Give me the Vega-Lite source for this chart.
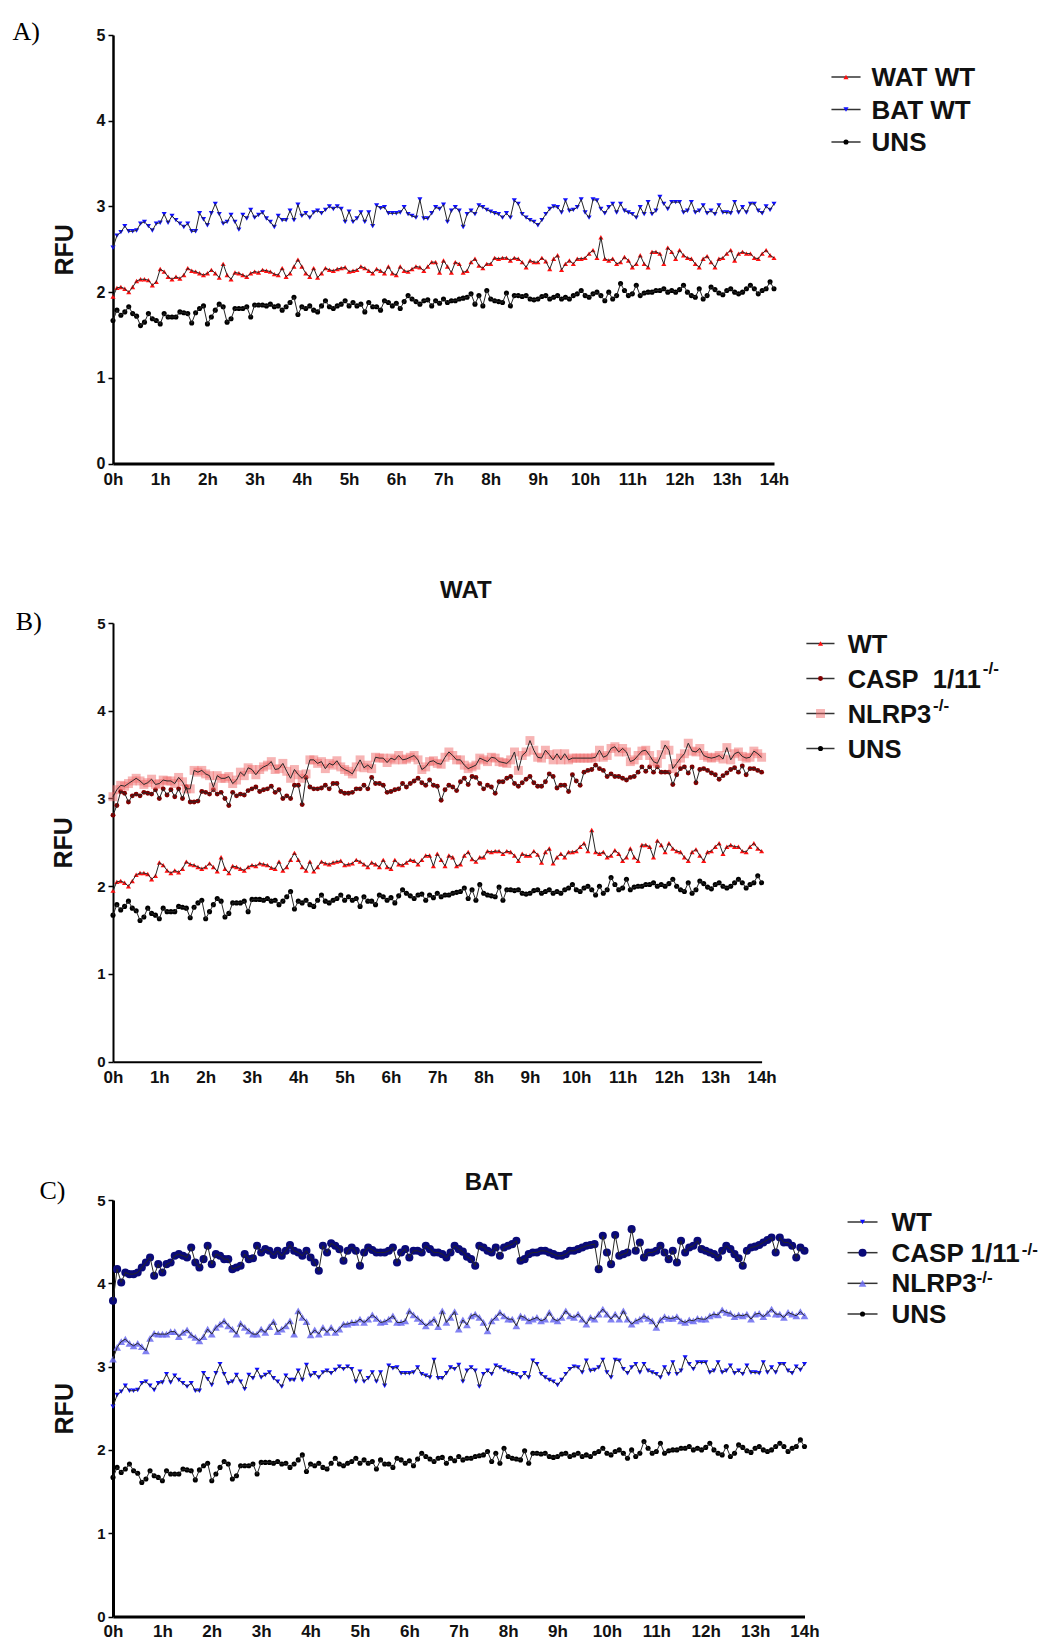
{
"$schema": "https://vega.github.io/schema/vega-lite/v6.json",
"background": "white",
"padding": {"left": 12, "top": 19, "right": 5, "bottom": 2},
"config": {"view": {"stroke": null}, "font": "Liberation Sans", "axis": {"grid": false}},
"datasets": {"d": [
{"m":0,"u":1.67,"w":1.95,"b":2.52,"wc":2.81,"wn":3.02,"bc":3.79,"bn":3.09},
{"m":5,"u":1.79,"w":2.05,"b":2.66,"wc":2.92,"wn":3.10,"bc":4.17,"bn":3.23},
{"m":10,"u":1.73,"w":2.06,"b":2.70,"wc":3.08,"wn":3.15,"bc":4.01,"bn":3.30},
{"m":15,"u":1.77,"w":2.04,"b":2.77,"wc":3.06,"wn":3.14,"bc":4.13,"bn":3.33},
{"m":20,"u":1.83,"w":2.00,"b":2.71,"wc":2.96,"wn":3.17,"bc":4.11,"bn":3.28},
{"m":25,"u":1.75,"w":2.06,"b":2.71,"wc":3.03,"wn":3.20,"bc":4.11,"bn":3.25},
{"m":30,"u":1.72,"w":2.13,"b":2.72,"wc":3.05,"wn":3.23,"bc":4.13,"bn":3.28},
{"m":35,"u":1.61,"w":2.15,"b":2.80,"wc":3.03,"wn":3.20,"bc":4.19,"bn":3.24},
{"m":40,"u":1.65,"w":2.15,"b":2.82,"wc":3.07,"wn":3.16,"bc":4.25,"bn":3.19},
{"m":45,"u":1.75,"w":2.14,"b":2.77,"wc":3.06,"wn":3.18,"bc":4.31,"bn":3.34},
{"m":50,"u":1.69,"w":2.08,"b":2.72,"wc":3.05,"wn":3.22,"bc":4.09,"bn":3.40},
{"m":55,"u":1.67,"w":2.12,"b":2.80,"wc":3.10,"wn":3.16,"bc":4.23,"bn":3.39},
{"m":60,"u":1.63,"w":2.27,"b":2.81,"wc":3.00,"wn":3.17,"bc":4.13,"bn":3.39},
{"m":65,"u":1.75,"w":2.24,"b":2.91,"wc":3.11,"wn":3.21,"bc":4.23,"bn":3.39},
{"m":70,"u":1.71,"w":2.18,"b":2.81,"wc":3.04,"wn":3.20,"bc":4.25,"bn":3.42},
{"m":75,"u":1.71,"w":2.15,"b":2.89,"wc":3.10,"wn":3.20,"bc":4.33,"bn":3.42},
{"m":80,"u":1.71,"w":2.18,"b":2.84,"wc":3.02,"wn":3.17,"bc":4.35,"bn":3.36},
{"m":85,"u":1.77,"w":2.16,"b":2.80,"wc":3.11,"wn":3.24,"bc":4.33,"bn":3.41},
{"m":90,"u":1.76,"w":2.20,"b":2.76,"wc":3.00,"wn":3.19,"bc":4.31,"bn":3.44},
{"m":95,"u":1.75,"w":2.28,"b":2.80,"wc":3.13,"wn":3.11,"bc":4.43,"bn":3.38},
{"m":100,"u":1.64,"w":2.25,"b":2.71,"wc":2.96,"wn":3.11,"bc":4.25,"bn":3.35},
{"m":105,"u":1.76,"w":2.24,"b":2.71,"wc":2.96,"wn":3.32,"bc":4.19,"bn":3.31},
{"m":110,"u":1.81,"w":2.22,"b":2.92,"wc":2.97,"wn":3.30,"bc":4.29,"bn":3.36},
{"m":115,"u":1.84,"w":2.20,"b":2.85,"wc":3.08,"wn":3.32,"bc":4.45,"bn":3.45},
{"m":120,"u":1.63,"w":2.22,"b":2.78,"wc":3.07,"wn":3.28,"bc":4.23,"bn":3.39},
{"m":125,"u":1.71,"w":2.26,"b":2.92,"wc":3.05,"wn":3.26,"bc":4.35,"bn":3.47},
{"m":130,"u":1.79,"w":2.22,"b":3.03,"wc":3.10,"wn":3.13,"bc":4.33,"bn":3.51},
{"m":135,"u":1.86,"w":2.17,"b":2.91,"wc":3.05,"wn":3.26,"bc":4.29,"bn":3.55},
{"m":140,"u":1.83,"w":2.33,"b":2.80,"wc":3.07,"wn":3.23,"bc":4.29,"bn":3.49},
{"m":145,"u":1.65,"w":2.20,"b":2.82,"wc":3.00,"wn":3.23,"bc":4.17,"bn":3.45},
{"m":150,"u":1.69,"w":2.15,"b":2.90,"wc":2.92,"wn":3.25,"bc":4.19,"bn":3.39},
{"m":155,"u":1.81,"w":2.23,"b":2.82,"wc":3.07,"wn":3.17,"bc":4.21,"bn":3.52},
{"m":160,"u":1.81,"w":2.22,"b":2.73,"wc":3.03,"wn":3.21,"bc":4.35,"bn":3.47},
{"m":165,"u":1.81,"w":2.20,"b":2.90,"wc":3.05,"wn":3.30,"bc":4.29,"bn":3.43},
{"m":170,"u":1.83,"w":2.18,"b":2.86,"wc":3.04,"wn":3.26,"bc":4.30,"bn":3.39},
{"m":175,"u":1.71,"w":2.22,"b":2.96,"wc":3.09,"wn":3.35,"bc":4.45,"bn":3.39},
{"m":180,"u":1.85,"w":2.24,"b":2.87,"wc":3.11,"wn":3.33,"bc":4.37,"bn":3.45},
{"m":185,"u":1.85,"w":2.23,"b":2.90,"wc":3.13,"wn":3.27,"bc":4.41,"bn":3.41},
{"m":190,"u":1.85,"w":2.26,"b":2.93,"wc":3.08,"wn":3.33,"bc":4.39,"bn":3.48},
{"m":195,"u":1.84,"w":2.25,"b":2.86,"wc":3.10,"wn":3.36,"bc":4.34,"bn":3.54},
{"m":200,"u":1.86,"w":2.24,"b":2.82,"wc":3.11,"wn":3.38,"bc":4.39,"bn":3.42},
{"m":205,"u":1.83,"w":2.21,"b":2.76,"wc":3.14,"wn":3.42,"bc":4.33,"bn":3.45},
{"m":210,"u":1.84,"w":2.20,"b":2.89,"wc":3.07,"wn":3.33,"bc":4.39,"bn":3.49},
{"m":215,"u":1.79,"w":2.28,"b":2.84,"wc":3.10,"wn":3.34,"bc":4.46,"bn":3.55},
{"m":220,"u":1.83,"w":2.18,"b":2.84,"wc":3.00,"wn":3.40,"bc":4.39,"bn":3.39},
{"m":225,"u":1.88,"w":2.22,"b":2.95,"wc":3.03,"wn":3.31,"bc":4.37,"bn":3.67},
{"m":230,"u":1.94,"w":2.30,"b":2.84,"wc":3.00,"wn":3.23,"bc":4.33,"bn":3.59},
{"m":235,"u":1.74,"w":2.38,"b":3.02,"wc":3.15,"wn":3.33,"bc":4.39,"bn":3.54},
{"m":240,"u":1.83,"w":2.30,"b":2.89,"wc":3.15,"wn":3.27,"bc":4.31,"bn":3.38},
{"m":245,"u":1.81,"w":2.22,"b":2.92,"wc":2.93,"wn":3.23,"bc":4.25,"bn":3.44},
{"m":250,"u":1.84,"w":2.18,"b":2.87,"wc":3.24,"wn":3.28,"bc":4.15,"bn":3.39},
{"m":255,"u":1.79,"w":2.28,"b":2.93,"wc":3.13,"wn":3.44,"bc":4.45,"bn":3.47},
{"m":260,"u":1.77,"w":2.17,"b":2.95,"wc":3.11,"wn":3.44,"bc":4.37,"bn":3.41},
{"m":265,"u":1.84,"w":2.22,"b":2.92,"wc":3.11,"wn":3.40,"bc":4.48,"bn":3.47},
{"m":270,"u":1.90,"w":2.28,"b":2.96,"wc":3.12,"wn":3.42,"bc":4.45,"bn":3.41},
{"m":275,"u":1.83,"w":2.26,"b":3.00,"wc":3.15,"wn":3.34,"bc":4.41,"bn":3.45},
{"m":280,"u":1.81,"w":2.25,"b":2.97,"wc":3.11,"wn":3.40,"bc":4.27,"bn":3.51},
{"m":285,"u":1.84,"w":2.27,"b":3.00,"wc":3.17,"wn":3.38,"bc":4.39,"bn":3.51},
{"m":290,"u":1.86,"w":2.28,"b":2.97,"wc":3.17,"wn":3.43,"bc":4.43,"bn":3.53},
{"m":295,"u":1.90,"w":2.29,"b":2.82,"wc":3.08,"wn":3.36,"bc":4.39,"bn":3.53},
{"m":300,"u":1.84,"w":2.24,"b":2.94,"wc":3.06,"wn":3.33,"bc":4.21,"bn":3.57},
{"m":305,"u":1.88,"w":2.25,"b":2.82,"wc":3.06,"wn":3.31,"bc":4.37,"bn":3.53},
{"m":310,"u":1.84,"w":2.26,"b":2.86,"wc":3.07,"wn":3.28,"bc":4.43,"bn":3.57},
{"m":315,"u":1.86,"w":2.30,"b":2.93,"wc":3.11,"wn":3.36,"bc":4.40,"bn":3.62},
{"m":320,"u":1.77,"w":2.28,"b":2.82,"wc":3.11,"wn":3.44,"bc":4.37,"bn":3.58},
{"m":325,"u":1.88,"w":2.25,"b":2.93,"wc":3.15,"wn":3.35,"bc":4.37,"bn":3.53},
{"m":330,"u":1.83,"w":2.22,"b":2.77,"wc":3.11,"wn":3.38,"bc":4.37,"bn":3.54},
{"m":335,"u":1.83,"w":2.27,"b":3.01,"wc":3.24,"wn":3.34,"bc":4.39,"bn":3.57},
{"m":340,"u":1.79,"w":2.25,"b":2.98,"wc":3.17,"wn":3.47,"bc":4.43,"bn":3.61},
{"m":345,"u":1.90,"w":2.22,"b":2.99,"wc":3.17,"wn":3.46,"bc":4.25,"bn":3.53},
{"m":350,"u":1.88,"w":2.30,"b":2.92,"wc":3.15,"wn":3.46,"bc":4.37,"bn":3.53},
{"m":355,"u":1.84,"w":2.22,"b":2.92,"wc":3.07,"wn":3.41,"bc":4.41,"bn":3.55},
{"m":360,"u":1.87,"w":2.20,"b":2.92,"wc":3.08,"wn":3.46,"bc":4.31,"bn":3.67},
{"m":365,"u":1.81,"w":2.30,"b":2.93,"wc":3.10,"wn":3.44,"bc":4.39,"bn":3.62},
{"m":370,"u":1.89,"w":2.25,"b":2.99,"wc":3.11,"wn":3.49,"bc":4.39,"bn":3.58},
{"m":375,"u":1.96,"w":2.24,"b":2.91,"wc":3.17,"wn":3.44,"bc":4.37,"bn":3.54},
{"m":380,"u":1.92,"w":2.27,"b":2.89,"wc":3.13,"wn":3.45,"bc":4.45,"bn":3.49},
{"m":385,"u":1.89,"w":2.30,"b":2.87,"wc":3.17,"wn":3.47,"bc":4.41,"bn":3.53},
{"m":390,"u":1.86,"w":2.29,"b":3.08,"wc":3.20,"wn":3.49,"bc":4.37,"bn":3.57},
{"m":395,"u":1.90,"w":2.25,"b":2.86,"wc":3.23,"wn":3.44,"bc":4.37,"bn":3.48},
{"m":400,"u":1.91,"w":2.30,"b":2.86,"wc":3.18,"wn":3.33,"bc":4.35,"bn":3.67},
{"m":405,"u":1.84,"w":2.35,"b":2.92,"wc":3.15,"wn":3.36,"bc":4.31,"bn":3.53},
{"m":410,"u":1.90,"w":2.35,"b":2.99,"wc":3.21,"wn":3.42,"bc":4.37,"bn":3.59},
{"m":415,"u":1.87,"w":2.23,"b":2.97,"wc":3.15,"wn":3.43,"bc":4.45,"bn":3.66},
{"m":420,"u":1.92,"w":2.37,"b":3.02,"wc":3.14,"wn":3.40,"bc":4.41,"bn":3.45},
{"m":425,"u":1.88,"w":2.30,"b":2.82,"wc":2.98,"wn":3.39,"bc":4.38,"bn":3.56},
{"m":430,"u":1.90,"w":2.23,"b":2.95,"wc":3.10,"wn":3.47,"bc":4.32,"bn":3.50},
{"m":435,"u":1.90,"w":2.35,"b":2.99,"wc":3.15,"wn":3.53,"bc":4.29,"bn":3.61},
{"m":440,"u":1.92,"w":2.33,"b":2.95,"wc":3.13,"wn":3.49,"bc":4.21,"bn":3.63},
{"m":445,"u":1.93,"w":2.23,"b":2.76,"wc":3.09,"wn":3.44,"bc":4.45,"bn":3.59},
{"m":450,"u":1.94,"w":2.25,"b":2.91,"wc":3.19,"wn":3.44,"bc":4.43,"bn":3.53},
{"m":455,"u":1.98,"w":2.35,"b":2.95,"wc":3.23,"wn":3.38,"bc":4.39,"bn":3.43},
{"m":460,"u":1.86,"w":2.39,"b":2.91,"wc":3.16,"wn":3.34,"bc":4.37,"bn":3.55},
{"m":465,"u":1.96,"w":2.31,"b":3.01,"wc":3.25,"wn":3.36,"bc":4.43,"bn":3.59},
{"m":470,"u":1.84,"w":2.28,"b":2.99,"wc":3.24,"wn":3.38,"bc":4.33,"bn":3.65},
{"m":475,"u":2.02,"w":2.33,"b":2.96,"wc":3.17,"wn":3.46,"bc":4.43,"bn":3.61},
{"m":480,"u":1.92,"w":2.33,"b":2.94,"wc":3.11,"wn":3.44,"bc":4.45,"bn":3.57},
{"m":485,"u":1.90,"w":2.40,"b":2.92,"wc":3.15,"wn":3.42,"bc":4.47,"bn":3.57},
{"m":490,"u":1.89,"w":2.39,"b":2.91,"wc":3.13,"wn":3.47,"bc":4.51,"bn":3.49},
{"m":495,"u":1.88,"w":2.40,"b":2.87,"wc":3.06,"wn":3.46,"bc":4.27,"bn":3.61},
{"m":500,"u":1.99,"w":2.40,"b":2.92,"wc":3.19,"wn":3.42,"bc":4.29,"bn":3.59},
{"m":505,"u":1.84,"w":2.37,"b":2.87,"wc":3.19,"wn":3.41,"bc":4.35,"bn":3.55},
{"m":510,"u":1.96,"w":2.40,"b":3.07,"wc":3.23,"wn":3.40,"bc":4.37,"bn":3.57},
{"m":515,"u":1.96,"w":2.39,"b":3.03,"wc":3.25,"wn":3.44,"bc":4.37,"bn":3.59},
{"m":520,"u":1.95,"w":2.35,"b":2.91,"wc":3.17,"wn":3.53,"bc":4.39,"bn":3.55},
{"m":525,"u":1.96,"w":2.29,"b":2.87,"wc":3.14,"wn":3.32,"bc":4.39,"bn":3.57},
{"m":530,"u":1.92,"w":2.37,"b":2.84,"wc":3.18,"wn":3.49,"bc":4.37,"bn":3.65},
{"m":535,"u":1.91,"w":2.35,"b":2.82,"wc":3.22,"wn":3.53,"bc":4.35,"bn":3.57},
{"m":540,"u":1.92,"w":2.35,"b":2.78,"wc":3.25,"wn":3.66,"bc":4.33,"bn":3.55},
{"m":545,"u":1.95,"w":2.40,"b":2.84,"wc":3.18,"wn":3.55,"bc":4.33,"bn":3.59},
{"m":550,"u":1.96,"w":2.36,"b":2.91,"wc":3.14,"wn":3.47,"bc":4.35,"bn":3.67},
{"m":555,"u":1.92,"w":2.27,"b":2.97,"wc":3.14,"wn":3.46,"bc":4.39,"bn":3.61},
{"m":560,"u":1.94,"w":2.39,"b":3.00,"wc":3.19,"wn":3.55,"bc":4.39,"bn":3.59},
{"m":565,"u":1.96,"w":2.43,"b":2.99,"wc":3.28,"wn":3.50,"bc":4.41,"bn":3.63},
{"m":570,"u":1.92,"w":2.26,"b":2.93,"wc":3.25,"wn":3.44,"bc":4.43,"bn":3.57},
{"m":575,"u":1.94,"w":2.33,"b":3.07,"wc":3.12,"wn":3.51,"bc":4.45,"bn":3.51},
{"m":580,"u":1.92,"w":2.37,"b":2.95,"wc":3.15,"wn":3.44,"bc":4.46,"bn":3.59},
{"m":585,"u":1.96,"w":2.33,"b":2.96,"wc":3.15,"wn":3.51,"bc":4.47,"bn":3.57},
{"m":590,"u":1.98,"w":2.39,"b":2.99,"wc":3.08,"wn":3.44,"bc":4.17,"bn":3.63},
{"m":595,"u":2.02,"w":2.39,"b":3.08,"wc":3.27,"wn":3.46,"bc":4.57,"bn":3.69},
{"m":600,"u":1.96,"w":2.40,"b":2.93,"wc":3.20,"wn":3.46,"bc":4.37,"bn":3.63},
{"m":605,"u":1.94,"w":2.45,"b":2.87,"wc":3.15,"wn":3.46,"bc":4.23,"bn":3.57},
{"m":610,"u":1.98,"w":2.49,"b":3.08,"wc":3.30,"wn":3.46,"bc":4.58,"bn":3.63},
{"m":615,"u":2.00,"w":2.40,"b":3.07,"wc":3.32,"wn":3.46,"bc":4.33,"bn":3.57},
{"m":620,"u":1.96,"w":2.64,"b":2.97,"wc":3.33,"wn":3.46,"bc":4.35,"bn":3.67},
{"m":625,"u":1.90,"w":2.39,"b":2.92,"wc":3.38,"wn":3.47,"bc":4.37,"bn":3.57},
{"m":630,"u":2.00,"w":2.37,"b":2.99,"wc":3.34,"wn":3.55,"bc":4.65,"bn":3.51},
{"m":635,"u":1.92,"w":2.39,"b":3.03,"wc":3.32,"wn":3.47,"bc":4.39,"bn":3.55},
{"m":640,"u":1.96,"w":2.33,"b":2.93,"wc":3.25,"wn":3.49,"bc":4.49,"bn":3.57},
{"m":645,"u":2.10,"w":2.35,"b":3.03,"wc":3.28,"wn":3.57,"bc":4.31,"bn":3.61},
{"m":650,"u":2.02,"w":2.41,"b":2.95,"wc":3.25,"wn":3.59,"bc":4.37,"bn":3.58},
{"m":655,"u":1.96,"w":2.37,"b":2.93,"wc":3.25,"wn":3.53,"bc":4.37,"bn":3.55},
{"m":660,"u":1.98,"w":2.29,"b":2.91,"wc":3.23,"wn":3.57,"bc":4.39,"bn":3.47},
{"m":665,"u":2.08,"w":2.33,"b":2.87,"wc":3.21,"wn":3.53,"bc":4.45,"bn":3.56},
{"m":670,"u":1.96,"w":2.43,"b":2.99,"wc":3.24,"wn":3.42,"bc":4.37,"bn":3.60},
{"m":675,"u":1.99,"w":2.33,"b":2.91,"wc":3.25,"wn":3.44,"bc":4.29,"bn":3.58},
{"m":680,"u":2.00,"w":2.29,"b":3.05,"wc":3.30,"wn":3.49,"bc":4.39,"bn":3.58},
{"m":685,"u":2.00,"w":2.47,"b":2.91,"wc":3.36,"wn":3.54,"bc":4.25,"bn":3.60},
{"m":690,"u":2.02,"w":2.47,"b":2.95,"wc":3.31,"wn":3.55,"bc":4.51,"bn":3.55},
{"m":695,"u":2.02,"w":2.45,"b":3.11,"wc":3.36,"wn":3.49,"bc":4.37,"bn":3.53},
{"m":700,"u":2.04,"w":2.33,"b":3.03,"wc":3.30,"wn":3.42,"bc":4.43,"bn":3.56},
{"m":705,"u":2.00,"w":2.52,"b":2.97,"wc":3.36,"wn":3.40,"bc":4.45,"bn":3.55},
{"m":710,"u":2.02,"w":2.47,"b":3.05,"wc":3.30,"wn":3.50,"bc":4.51,"bn":3.58},
{"m":715,"u":2.00,"w":2.39,"b":3.05,"wc":3.30,"wn":3.61,"bc":4.41,"bn":3.57},
{"m":720,"u":2.03,"w":2.49,"b":3.05,"wc":3.30,"wn":3.55,"bc":4.39,"bn":3.57},
{"m":725,"u":2.08,"w":2.43,"b":2.93,"wc":3.16,"wn":3.34,"bc":4.37,"bn":3.61},
{"m":730,"u":2.00,"w":2.40,"b":2.95,"wc":3.27,"wn":3.40,"bc":4.35,"bn":3.63},
{"m":735,"u":1.96,"w":2.39,"b":3.05,"wc":3.34,"wn":3.46,"bc":4.31,"bn":3.62},
{"m":740,"u":1.94,"w":2.33,"b":2.93,"wc":3.36,"wn":3.51,"bc":4.39,"bn":3.68},
{"m":745,"u":2.04,"w":2.29,"b":2.95,"wc":3.29,"wn":3.63,"bc":4.45,"bn":3.65},
{"m":750,"u":1.92,"w":2.39,"b":3.01,"wc":3.36,"wn":3.54,"bc":4.41,"bn":3.64},
{"m":755,"u":1.96,"w":2.42,"b":2.92,"wc":3.18,"wn":3.53,"bc":4.35,"bn":3.60},
{"m":760,"u":2.06,"w":2.35,"b":2.95,"wc":3.33,"wn":3.57,"bc":4.30,"bn":3.62},
{"m":765,"u":2.03,"w":2.29,"b":2.91,"wc":3.34,"wn":3.49,"bc":4.21,"bn":3.61},
{"m":770,"u":1.99,"w":2.39,"b":3.01,"wc":3.32,"wn":3.47,"bc":4.39,"bn":3.63},
{"m":775,"u":1.97,"w":2.40,"b":2.93,"wc":3.29,"wn":3.46,"bc":4.43,"bn":3.57},
{"m":780,"u":2.02,"w":2.45,"b":2.93,"wc":3.27,"wn":3.47,"bc":4.44,"bn":3.63},
{"m":785,"u":2.04,"w":2.49,"b":2.92,"wc":3.22,"wn":3.49,"bc":4.46,"bn":3.64},
{"m":790,"u":2.00,"w":2.37,"b":3.05,"wc":3.26,"wn":3.45,"bc":4.49,"bn":3.60},
{"m":795,"u":1.98,"w":2.45,"b":2.93,"wc":3.29,"wn":3.58,"bc":4.52,"bn":3.64},
{"m":800,"u":2.00,"w":2.47,"b":2.99,"wc":3.33,"wn":3.44,"bc":4.55,"bn":3.69},
{"m":805,"u":2.04,"w":2.45,"b":2.93,"wc":3.35,"wn":3.51,"bc":4.37,"bn":3.63},
{"m":810,"u":2.08,"w":2.45,"b":3.03,"wc":3.30,"wn":3.53,"bc":4.55,"bn":3.63},
{"m":815,"u":2.04,"w":2.40,"b":3.03,"wc":3.37,"wn":3.48,"bc":4.49,"bn":3.59},
{"m":820,"u":1.98,"w":2.39,"b":2.95,"wc":3.27,"wn":3.46,"bc":4.49,"bn":3.65},
{"m":825,"u":2.02,"w":2.45,"b":2.92,"wc":3.34,"wn":3.47,"bc":4.45,"bn":3.63},
{"m":830,"u":2.04,"w":2.49,"b":3.00,"wc":3.34,"wn":3.54,"bc":4.31,"bn":3.61},
{"m":835,"u":2.12,"w":2.43,"b":2.96,"wc":3.32,"wn":3.51,"bc":4.43,"bn":3.66},
{"m":840,"u":2.04,"w":2.40,"b":3.03,"wc":3.30,"wn":3.47,"bc":4.39,"bn":3.61}
]},
"resolve": {"scale": {"x": "independent", "y": "independent", "fill": "independent", "shape": "independent", "size": "independent", "opacity": "independent"}},
"spacing": 85,
"vconcat": [
{
 "width": 661, "height": 428.6,
 "resolve": {"scale": {"y": "independent"}, "axis": {"x": "independent", "y": "independent"}},
 "layer": [
  {
   "data": {"name": "d"},
   "transform": [{"fold": ["w", "b", "u"], "as": ["key", "v"]}],
   "mark": {"type": "point", "filled": true, "strokeWidth": 0},
   "encoding": {
    "x": {"field": "m", "type": "quantitative", "scale": {"domain": [0, 840], "nice": false, "zero": false},
      "axis": {"values": [0,60,120,180,240,300,360,420,480,540,600,660,720,780,840], "labelExpr": "(datum.value/60) + 'h'", "title": " ", "titleFontSize": 5, "titlePadding": 0, "ticks": false, "domainWidth": 3, "domainColor": "#000", "labelFontSize": 17, "labelFontWeight": "bold", "labelPadding": 8, "labelColor": "#111", "labelFlush": false}},
    "y": {"field": "v", "type": "quantitative", "scale": {"domain": [0, 5], "nice": false, "zero": false},
      "axis": {"values": [0,1,2,3,4,5], "title": "RFU", "titleFontSize": 25, "titleFontWeight": "bold", "titlePadding": 19, "titleColor": "#111", "labelFontSize": 16, "labelFontWeight": "bold", "labelColor": "#111", "tickSize": 5, "tickWidth": 1.5, "tickColor": "#000", "domainWidth": 2.5, "domainColor": "#000", "labelPadding": 3}},
    "fill": {"field": "key", "type": "nominal", "scale": {"domain": ["w", "b", "u"], "range": ["#ff1010", "#1010ff", "#000000"]}, "legend": null},
    "shape": {"field": "key", "type": "nominal", "scale": {"domain": ["w", "b", "u"], "range": ["triangle-up", "triangle-down", "circle"]}, "legend": null},
    "size": {"field": "key", "type": "nominal", "scale": {"type": "ordinal", "domain": ["w", "b", "u"], "range": [26, 26, 26]}, "legend": null},
    "opacity": {"field": "key", "type": "nominal", "scale": {"type": "ordinal", "domain": ["w", "b", "u"], "range": [1, 1, 1]}, "legend": null}
   }
  },
  {
   "data": {"name": "d"},
   "transform": [{"fold": ["w", "b", "u"], "as": ["key", "v"]}],
   "mark": {"type": "line", "color": "#262626", "strokeWidth": 1},
   "encoding": {
    "x": {"field": "m", "type": "quantitative", "axis": null},
    "y": {"field": "v", "type": "quantitative", "scale": {"domain": [0, 5], "nice": false, "zero": false}, "axis": null},
    "detail": {"field": "key", "type": "nominal"}
   }
  },
  {
   "data": {"values": [{"key": "w", "lab": "WAT WT"}, {"key": "b", "lab": "BAT WT"}, {"key": "u", "lab": "UNS"}]},
   "mark": {"type": "rule", "color": "#333", "strokeWidth": 1.5},
   "encoding": {
    "x": {"datum": 913, "axis": null}, "x2": {"datum": 950},
    "y": {"field": "key", "type": "nominal", "scale": {"type": "point", "domain": ["w", "b", "u"], "range": [42, 107], "padding": 0}, "axis": null}
   }
  },
  {
   "data": {"values": [{"key": "w", "lab": "WAT WT"}, {"key": "b", "lab": "BAT WT"}, {"key": "u", "lab": "UNS"}]},
   "mark": {"type": "point", "filled": true, "strokeWidth": 0},
   "encoding": {
    "x": {"datum": 931.5, "axis": null},
    "y": {"field": "key", "type": "nominal", "scale": {"type": "point", "domain": ["w", "b", "u"], "range": [42, 107], "padding": 0}, "axis": null},
    "fill": {"field": "key", "type": "nominal", "scale": {"domain": ["w", "b", "u"], "range": ["#ff1010", "#1010ff", "#000000"]}, "legend": null},
    "shape": {"field": "key", "type": "nominal", "scale": {"domain": ["w", "b", "u"], "range": ["triangle-up", "triangle-down", "circle"]}, "legend": null},
    "size": {"field": "key", "type": "nominal", "scale": {"type": "ordinal", "domain": ["w", "b", "u"], "range": [26, 26, 26]}, "legend": null},
    "opacity": {"field": "key", "type": "nominal", "scale": {"type": "ordinal", "domain": ["w", "b", "u"], "range": [1, 1, 1]}, "legend": null}
   }
  },
  {
   "data": {"values": [{"key": "w", "lab": "WAT WT"}, {"key": "b", "lab": "BAT WT"}, {"key": "u", "lab": "UNS"}]},
   "mark": {"type": "text", "align": "left", "baseline": "alphabetic", "dy": 9, "fontSize": 26, "fontWeight": "bold", "color": "#111"},
   "encoding": {
    "x": {"datum": 964, "axis": null},
    "y": {"field": "key", "type": "nominal", "scale": {"type": "point", "domain": ["w", "b", "u"], "range": [42, 107], "padding": 0}, "axis": null},
    "text": {"field": "lab"}
   }
  },
  {
   "data": {"values": [{}]},
   "mark": {"type": "text", "text": "A)", "font": "Liberation Serif", "fontSize": 26, "align": "left", "baseline": "alphabetic", "color": "#000"},
   "encoding": {
    "x": {"datum": -127.7, "axis": null},
    "y": {"datum": 4.94, "scale": {"domain": [0, 5], "nice": false, "zero": false}, "axis": null}
   }
  }
 ]
},
{
 "width": 648.6, "height": 438.7,
 "resolve": {"scale": {"y": "independent"}, "axis": {"x": "independent", "y": "independent"}},
 "layer": [
  {
   "data": {"name": "d"},
   "transform": [{"fold": ["w", "wc", "wn", "u"], "as": ["key", "v"]}],
   "mark": {"type": "point", "filled": true, "strokeWidth": 0},
   "encoding": {
    "x": {"field": "m", "type": "quantitative", "scale": {"domain": [0, 840], "nice": false, "zero": false},
      "axis": {"values": [0,60,120,180,240,300,360,420,480,540,600,660,720,780,840], "labelExpr": "(datum.value/60) + 'h'", "title": null, "ticks": false, "domainWidth": 2, "domainColor": "#000", "labelFontSize": 17, "labelFontWeight": "bold", "labelPadding": 8, "labelColor": "#111", "labelFlush": false}},
    "y": {"field": "v", "type": "quantitative", "scale": {"domain": [0, 5], "nice": false, "zero": false},
      "axis": {"values": [0,1,2,3,4,5], "title": "RFU", "titleFontSize": 25, "titleFontWeight": "bold", "titlePadding": 20, "titleColor": "#111", "labelFontSize": 15, "labelFontWeight": "bold", "labelColor": "#111", "tickSize": 5, "tickWidth": 1.5, "tickColor": "#000", "domainWidth": 2, "domainColor": "#000", "labelPadding": 3}},
    "fill": {"field": "key", "type": "nominal", "scale": {"domain": ["w", "wc", "wn", "u"], "range": ["#ff1010", "#800000", "#f06a6a", "#000000"]}, "legend": null},
    "shape": {"field": "key", "type": "nominal", "scale": {"domain": ["w", "wc", "wn", "u"], "range": ["triangle-up", "circle", "square", "circle"]}, "legend": null},
    "size": {"field": "key", "type": "nominal", "scale": {"type": "ordinal", "domain": ["w", "wc", "wn", "u"], "range": [26, 24, 80, 26]}, "legend": null},
    "opacity": {"field": "key", "type": "nominal", "scale": {"type": "ordinal", "domain": ["w", "wc", "wn", "u"], "range": [1, 1, 0.5, 1]}, "legend": null}
   }
  },
  {
   "data": {"name": "d"},
   "transform": [{"fold": ["w", "wc", "wn", "u"], "as": ["key", "v"]}],
   "mark": {"type": "line", "color": "#262626", "strokeWidth": 1},
   "encoding": {
    "x": {"field": "m", "type": "quantitative", "axis": null},
    "y": {"field": "v", "type": "quantitative", "scale": {"domain": [0, 5], "nice": false, "zero": false}, "axis": null},
    "detail": {"field": "key", "type": "nominal"}
   }
  },
  {
   "data": {"values": [{"key": "w", "lab": "WT"}, {"key": "wc", "lab": "CASP  1/11"}, {"key": "wn", "lab": "NLRP3"}, {"key": "u", "lab": "UNS"}]},
   "mark": {"type": "rule", "color": "#333", "strokeWidth": 1.5},
   "encoding": {
    "x": {"datum": 898, "axis": null}, "x2": {"datum": 934.4},
    "y": {"field": "key", "type": "nominal", "scale": {"type": "point", "domain": ["w", "wc", "wn", "u"], "range": [20.5, 125.5], "padding": 0}, "axis": null}
   }
  },
  {
   "data": {"values": [{"key": "w", "lab": "WT"}, {"key": "wc", "lab": "CASP  1/11"}, {"key": "wn", "lab": "NLRP3"}, {"key": "u", "lab": "UNS"}]},
   "mark": {"type": "point", "filled": true, "strokeWidth": 0},
   "encoding": {
    "x": {"datum": 916.3, "axis": null},
    "y": {"field": "key", "type": "nominal", "scale": {"type": "point", "domain": ["w", "wc", "wn", "u"], "range": [20.5, 125.5], "padding": 0}, "axis": null},
    "fill": {"field": "key", "type": "nominal", "scale": {"domain": ["w", "wc", "wn", "u"], "range": ["#ff1010", "#800000", "#f06a6a", "#000000"]}, "legend": null},
    "shape": {"field": "key", "type": "nominal", "scale": {"domain": ["w", "wc", "wn", "u"], "range": ["triangle-up", "circle", "square", "circle"]}, "legend": null},
    "size": {"field": "key", "type": "nominal", "scale": {"type": "ordinal", "domain": ["w", "wc", "wn", "u"], "range": [26, 24, 80, 26]}, "legend": null},
    "opacity": {"field": "key", "type": "nominal", "scale": {"type": "ordinal", "domain": ["w", "wc", "wn", "u"], "range": [1, 1, 0.5, 1]}, "legend": null}
   }
  },
  {
   "data": {"values": [{"key": "w", "lab": "WT"}, {"key": "wc", "lab": "CASP\u00a0 1/11"}, {"key": "wn", "lab": "NLRP3"}, {"key": "u", "lab": "UNS"}]},
   "mark": {"type": "text", "align": "left", "baseline": "alphabetic", "dy": 9, "fontSize": 25.5, "fontWeight": "bold", "color": "#111"},
   "encoding": {
    "x": {"datum": 951.5, "axis": null},
    "y": {"field": "key", "type": "nominal", "scale": {"type": "point", "domain": ["w", "wc", "wn", "u"], "range": [20.5, 125.5], "padding": 0}, "axis": null},
    "text": {"field": "lab"}
   }
  },
  {
   "data": {"values": [{"key": "wc"}]},
   "mark": {"type": "text", "text": "-/-", "align": "left", "baseline": "alphabetic", "dy": -5, "fontSize": 17, "fontWeight": "bold", "color": "#111"},
   "encoding": {
    "x": {"datum": 1126.4, "axis": null},
    "y": {"field": "key", "type": "nominal", "scale": {"type": "point", "domain": ["w", "wc", "wn", "u"], "range": [20.5, 125.5], "padding": 0}, "axis": null}
   }
  },
  {
   "data": {"values": [{"key": "wn"}]},
   "mark": {"type": "text", "text": "-/-", "align": "left", "baseline": "alphabetic", "dy": -3, "fontSize": 17, "fontWeight": "bold", "color": "#111"},
   "encoding": {
    "x": {"datum": 1062, "axis": null},
    "y": {"field": "key", "type": "nominal", "scale": {"type": "point", "domain": ["w", "wc", "wn", "u"], "range": [20.5, 125.5], "padding": 0}, "axis": null}
   }
  },
  {
   "data": {"values": [{}]},
   "mark": {"type": "text", "text": "B)", "font": "Liberation Serif", "fontSize": 26, "align": "left", "baseline": "alphabetic", "color": "#000"},
   "encoding": {
    "x": {"datum": -125.9, "axis": null},
    "y": {"datum": 4.915, "scale": {"domain": [0, 5], "nice": false, "zero": false}, "axis": null}
   }
  },
  {
   "data": {"values": [{}]},
   "mark": {"type": "text", "text": "WAT", "fontSize": 24, "fontWeight": "bold", "align": "center", "baseline": "alphabetic", "color": "#111"},
   "encoding": {
    "x": {"datum": 457, "axis": null},
    "y": {"datum": 5.29, "scale": {"domain": [0, 5], "nice": false, "zero": false}, "axis": null}
   }
  }
 ]
},
{
 "width": 691.5, "height": 416.5,
 "resolve": {"scale": {"y": "independent"}, "axis": {"x": "independent", "y": "independent"}},
 "layer": [
  {
   "data": {"name": "d"},
   "transform": [{"fold": ["b", "bc", "bn", "u"], "as": ["key", "v"]}],
   "mark": {"type": "point", "filled": true, "strokeWidth": 0},
   "encoding": {
    "x": {"field": "m", "type": "quantitative", "scale": {"domain": [0, 840], "nice": false, "zero": false},
      "axis": {"values": [0,60,120,180,240,300,360,420,480,540,600,660,720,780,840], "labelExpr": "(datum.value/60) + 'h'", "title": null, "ticks": false, "domainWidth": 3, "domainColor": "#000", "labelFontSize": 17, "labelFontWeight": "bold", "labelPadding": 7, "labelColor": "#111", "labelFlush": false}},
    "y": {"field": "v", "type": "quantitative", "scale": {"domain": [0, 5], "nice": false, "zero": false},
      "axis": {"values": [0,1,2,3,4,5], "title": "RFU", "titleFontSize": 25, "titleFontWeight": "bold", "titlePadding": 19, "titleColor": "#111", "labelFontSize": 15, "labelFontWeight": "bold", "labelColor": "#111", "tickSize": 5, "tickWidth": 1.5, "tickColor": "#000", "domainWidth": 3, "domainColor": "#000", "labelPadding": 3}},
    "fill": {"field": "key", "type": "nominal", "scale": {"domain": ["b", "bc", "bn", "u"], "range": ["#1010ff", "#0a0a78", "#6b6bf0", "#000000"]}, "legend": null},
    "shape": {"field": "key", "type": "nominal", "scale": {"domain": ["b", "bc", "bn", "u"], "range": ["triangle-down", "circle", "triangle-up", "circle"]}, "legend": null},
    "size": {"field": "key", "type": "nominal", "scale": {"type": "ordinal", "domain": ["b", "bc", "bn", "u"], "range": [26, 65, 60, 26]}, "legend": null},
    "opacity": {"field": "key", "type": "nominal", "scale": {"type": "ordinal", "domain": ["b", "bc", "bn", "u"], "range": [1, 1, 0.85, 1]}, "legend": null}
   }
  },
  {
   "data": {"name": "d"},
   "transform": [{"fold": ["b", "bc", "bn", "u"], "as": ["key", "v"]}],
   "mark": {"type": "line", "color": "#262626", "strokeWidth": 1},
   "encoding": {
    "x": {"field": "m", "type": "quantitative", "axis": null},
    "y": {"field": "v", "type": "quantitative", "scale": {"domain": [0, 5], "nice": false, "zero": false}, "axis": null},
    "detail": {"field": "key", "type": "nominal"}
   }
  },
  {
   "data": {"values": [{"key": "b", "lab": "WT"}, {"key": "bc", "lab": "CASP 1/11"}, {"key": "bn", "lab": "NLRP3"}, {"key": "u", "lab": "UNS"}]},
   "mark": {"type": "rule", "color": "#333", "strokeWidth": 1.5},
   "encoding": {
    "x": {"datum": 892.3, "axis": null}, "x2": {"datum": 928.7},
    "y": {"field": "key", "type": "nominal", "scale": {"type": "point", "domain": ["b", "bc", "bn", "u"], "range": [22, 114], "padding": 0}, "axis": null}
   }
  },
  {
   "data": {"values": [{"key": "b", "lab": "WT"}, {"key": "bc", "lab": "CASP 1/11"}, {"key": "bn", "lab": "NLRP3"}, {"key": "u", "lab": "UNS"}]},
   "mark": {"type": "point", "filled": true, "strokeWidth": 0},
   "encoding": {
    "x": {"datum": 910.5, "axis": null},
    "y": {"field": "key", "type": "nominal", "scale": {"type": "point", "domain": ["b", "bc", "bn", "u"], "range": [22, 114], "padding": 0}, "axis": null},
    "fill": {"field": "key", "type": "nominal", "scale": {"domain": ["b", "bc", "bn", "u"], "range": ["#1010ff", "#0a0a78", "#6b6bf0", "#000000"]}, "legend": null},
    "shape": {"field": "key", "type": "nominal", "scale": {"domain": ["b", "bc", "bn", "u"], "range": ["triangle-down", "circle", "triangle-up", "circle"]}, "legend": null},
    "size": {"field": "key", "type": "nominal", "scale": {"type": "ordinal", "domain": ["b", "bc", "bn", "u"], "range": [26, 65, 60, 26]}, "legend": null},
    "opacity": {"field": "key", "type": "nominal", "scale": {"type": "ordinal", "domain": ["b", "bc", "bn", "u"], "range": [1, 1, 0.85, 1]}, "legend": null}
   }
  },
  {
   "data": {"values": [{"key": "b", "lab": "WT"}, {"key": "bc", "lab": "CASP 1/11"}, {"key": "bn", "lab": "NLRP3"}, {"key": "u", "lab": "UNS"}]},
   "mark": {"type": "text", "align": "left", "baseline": "alphabetic", "dy": 9, "fontSize": 26, "fontWeight": "bold", "color": "#111"},
   "encoding": {
    "x": {"datum": 945.7, "axis": null},
    "y": {"field": "key", "type": "nominal", "scale": {"type": "point", "domain": ["b", "bc", "bn", "u"], "range": [22, 114], "padding": 0}, "axis": null},
    "text": {"field": "lab"}
   }
  },
  {
   "data": {"values": [{"key": "bc"}]},
   "mark": {"type": "text", "text": "-/-", "align": "left", "baseline": "alphabetic", "dy": 2, "fontSize": 17, "fontWeight": "bold", "color": "#111"},
   "encoding": {
    "x": {"datum": 1104, "axis": null},
    "y": {"field": "key", "type": "nominal", "scale": {"type": "point", "domain": ["b", "bc", "bn", "u"], "range": [22, 114], "padding": 0}, "axis": null}
   }
  },
  {
   "data": {"values": [{"key": "bn"}]},
   "mark": {"type": "text", "text": "-/-", "align": "left", "baseline": "alphabetic", "dy": 0, "fontSize": 17, "fontWeight": "bold", "color": "#111"},
   "encoding": {
    "x": {"datum": 1049, "axis": null},
    "y": {"field": "key", "type": "nominal", "scale": {"type": "point", "domain": ["b", "bc", "bn", "u"], "range": [22, 114], "padding": 0}, "axis": null}
   }
  },
  {
   "data": {"values": [{}]},
   "mark": {"type": "text", "text": "C)", "font": "Liberation Serif", "fontSize": 26, "align": "left", "baseline": "alphabetic", "color": "#000"},
   "encoding": {
    "x": {"datum": -89.3, "axis": null},
    "y": {"datum": 5.01, "scale": {"domain": [0, 5], "nice": false, "zero": false}, "axis": null}
   }
  },
  {
   "data": {"values": [{}]},
   "mark": {"type": "text", "text": "BAT", "fontSize": 24, "fontWeight": "bold", "align": "center", "baseline": "alphabetic", "color": "#111"},
   "encoding": {
    "x": {"datum": 456.2, "axis": null},
    "y": {"datum": 5.12, "scale": {"domain": [0, 5], "nice": false, "zero": false}, "axis": null}
   }
  }
 ]
}
]
}
